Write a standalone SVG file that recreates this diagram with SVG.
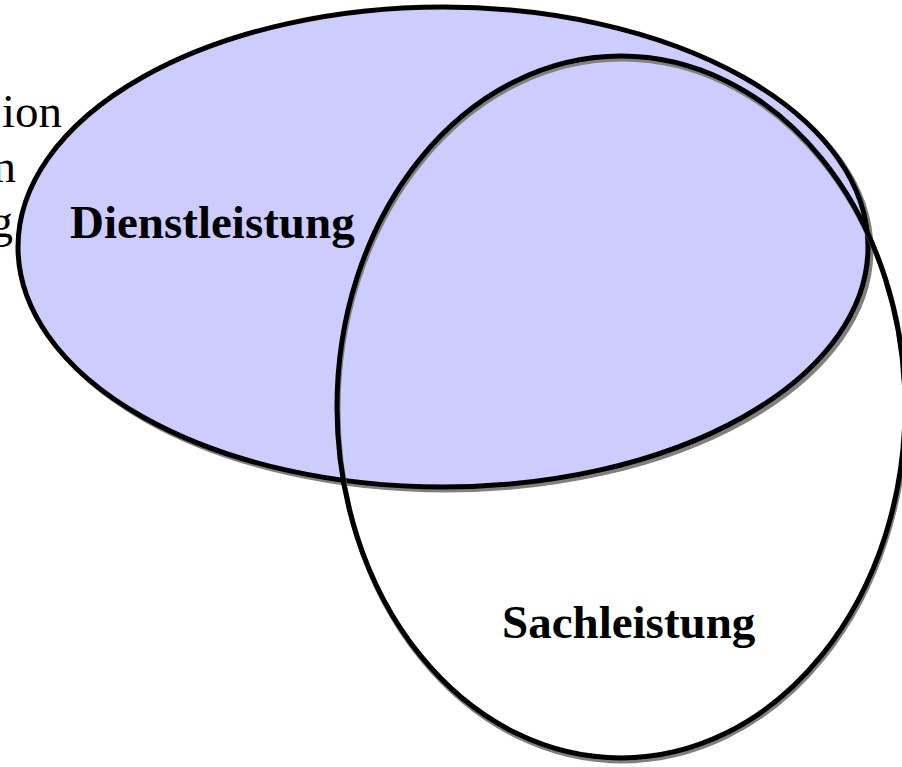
<svg xmlns="http://www.w3.org/2000/svg" width="902" height="767" viewBox="0 0 902 767">
  <style>
    .outline { stroke: #000000; stroke-width: 5; }
    .shadow { fill: none; stroke: #808080; stroke-width: 5; }
    .label { font-family: "Liberation Serif", "Times New Roman", serif; font-size: 47px; fill: #000000; }
    .bold { font-weight: bold; }
  </style>
  <rect x="0" y="0" width="902" height="767" fill="#ffffff"/>

  <!-- partially visible text at the left border -->
  <g id="side-text" class="label">
    <text x="62" y="127" text-anchor="end">ion</text>
    <text x="16" y="182" text-anchor="end">n</text>
    <text x="13" y="237" text-anchor="end">g</text>
  </g>

  <!-- Dienstleistung set -->
  <g id="dienstleistung">
    <ellipse class="shadow" cx="446" cy="250" rx="425" ry="240"/>
    <ellipse class="outline" cx="443" cy="247" rx="425" ry="240" fill="#ccccff"/>
    <text class="label bold" x="70" y="238">Dienstleistung</text>
  </g>

  <!-- Sachleistung set -->
  <g id="sachleistung">
    <ellipse class="shadow" cx="622" cy="410" rx="284" ry="351"/>
    <ellipse class="outline" cx="621" cy="407" rx="284" ry="351" fill="none"/>
    <text class="label bold" x="502" y="638">Sachleistung</text>
  </g>
</svg>
